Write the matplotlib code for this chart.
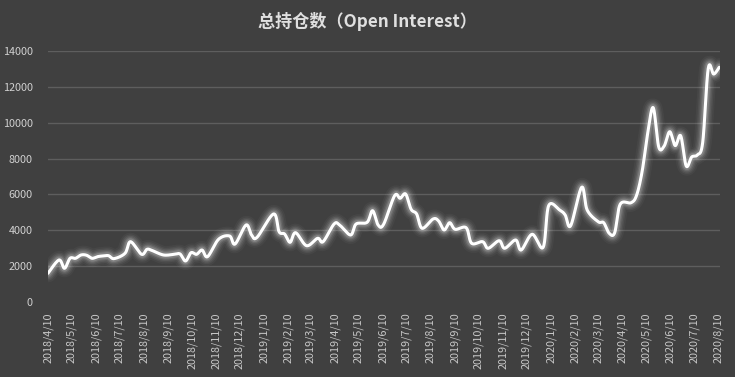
import numpy as np
import pandas as pd
import matplotlib
matplotlib.use("Agg")
import matplotlib.pyplot as plt
import matplotlib.dates as mdates

plt.rcParams['font.family'] = ['Noto Sans CJK SC', 'DejaVu Sans']

# ---- data ----
start_date = "2018-04-10"
week_index = [0, 2, 3, 4, 5, 6, 7, 8, 9, 10, 11, 12, 14, 15, 17, 18, 19, 21, 23, 24,
              25, 26, 27, 28, 29, 31, 33, 34, 36, 37, 38, 41, 42, 43, 44, 45, 47, 49, 50, 52,
              53, 55, 56, 58, 59, 60, 61, 63, 64, 65, 66, 67, 68, 70, 71, 72, 73, 74, 76, 77,
              79, 80, 82, 83, 85, 86, 88, 90, 91, 93, 94, 95, 97, 98, 100, 101, 102, 103, 104, 106,
              107, 108, 109, 110, 111, 112, 113, 114, 115, 116, 117, 118, 119, 120, 121, 122]
open_interest = [1614, 2354, 1892, 2448, 2448, 2632, 2620, 2448, 2540, 2580, 2594, 2430, 2727, 3372, 2671, 2950, 2872, 2632, 2671, 2688,
                 2298, 2760, 2671, 2910, 2540, 3506, 3690, 3244, 4300, 3745, 3617, 4914, 3929, 3800, 3339, 3873, 3150, 3561, 3372, 4357,
                 4302, 3745, 4357, 4452, 5097, 4302, 4340, 5932, 5787, 6027, 5175, 4914, 4118, 4636, 4524, 4023, 4430, 4062, 4151, 3283,
                 3372, 3005, 3428, 3005, 3467, 2910, 3784, 3061, 5376, 5136, 4858, 4263, 6400, 5136, 4485, 4430, 3840, 3873, 5454, 5543,
                 5971, 7300, 9400, 10830, 8650, 8698, 9494, 8720, 9263, 7585, 8085, 8197, 8900, 13000, 12700, 13077]
tick_dates = pd.date_range("2018-04-10", "2020-08-10", freq=pd.DateOffset(months=1))
tick_labels = [f"{d.year}/{d.month}/{d.day}" for d in tick_dates]
y_ticks = [0, 2000, 4000, 6000, 8000, 10000, 12000, 14000]
title = "总持仓数（Open Interest）"

dates = pd.Timestamp(start_date) + pd.to_timedelta(np.array(week_index) * 7, unit="D")
xn = mdates.date2num(dates.to_pydatetime())
yv = np.array(open_interest, dtype=float)

# Excel-like smoothed line: cubic Bezier with control points (P[i+1]-P[i-1])/6
def smooth(x, y, n=20):
    P = np.column_stack([x, y])
    Pext = np.vstack([P[0], P, P[-1]])
    out = []
    t = np.linspace(0, 1, n, endpoint=False)[:, None]
    for i in range(len(P) - 1):
        p0, p3 = P[i], P[i + 1]
        c1 = p0 + (Pext[i + 2] - Pext[i]) / 6.0
        c2 = p3 - (Pext[i + 3] - Pext[i + 1]) / 6.0
        seg = ((1 - t) ** 3) * p0 + 3 * ((1 - t) ** 2) * t * c1 + 3 * (1 - t) * t ** 2 * c2 + t ** 3 * p3
        out.append(seg)
    out.append(P[-1][None, :])
    S = np.vstack(out)
    return S[:, 0], S[:, 1]

sx, sy = smooth(xn, yv)

bg = "#404040"
fig = plt.figure(figsize=(7.35, 3.77), dpi=100, facecolor=bg)
ax = fig.add_axes([48 / 735, 1 - 302.3 / 377, 672 / 735, 251.6 / 377], facecolor=bg)

# glow
for lw, a in [(13, 0.035), (10.5, 0.05), (8.5, 0.07), (6.5, 0.10), (4.8, 0.15)]:
    ax.plot(sx, sy, color="white", lw=lw, alpha=a, solid_capstyle="round", solid_joinstyle="round")
ax.plot(sx, sy, color="white", lw=2.2, solid_capstyle="round", solid_joinstyle="round")

ax.set_ylim(0, 14000)
ax.set_yticks(y_ticks)
ax.set_yticklabels([str(v) for v in y_ticks])
ax.set_xlim(mdates.date2num(pd.Timestamp("2018-04-10")), xn[-1] + 1)
ax.set_xticks(mdates.date2num(tick_dates.to_pydatetime()))
ax.set_xticklabels(tick_labels, rotation=90)

for v in y_ticks[1:]:
    ax.axhline(v, color="#5e5e5e", lw=1.0, zorder=0)

for s in ax.spines.values():
    s.set_visible(False)
ax.tick_params(axis="both", length=0, colors="#d0d0d0", labelsize=7.8)
ax.tick_params(axis="y", pad=11)
ax.tick_params(axis="x", pad=7)
for lab in ax.get_xticklabels():
    lab.set_color("#c8c8c8")

fig.text(0.5, 1 - 21 / 377, title, ha="center", va="center", color="#e0e0e0",
         fontsize=12.3, fontweight="bold")

fig.savefig("out.png", dpi=100, facecolor=bg)
